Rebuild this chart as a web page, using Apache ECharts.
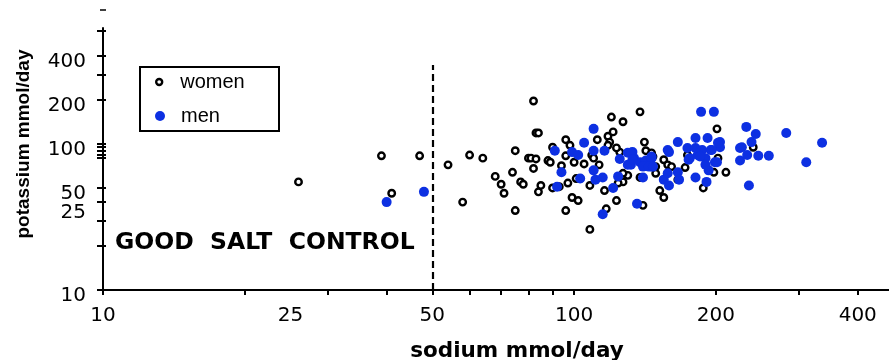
<!DOCTYPE html>
<html>
<head>
<meta charset="utf-8">
<script src="https://cdn.jsdelivr.net/npm/echarts@6/dist/echarts.min.js"></script>
<style>
html,body{margin:0;padding:0;background:#fff;}
#c{width:889px;height:360px;}
</style>
</head>
<body>
<div id="c"></div>
<script>
// ---- data (sodium / potassium, mmol/day) ----
const womenSodium = [26,39,47,41,54,60,58,64,68,70,71,74,75,75,77,78,80,81,83,82,83,84,82,84,85,88,89,94,96,98,96,100,105,101,103,97,93,99,102,96,108,108,112,110,118,121,120,127,109,110,113,116,117,123,138,141,125,142,146,147,155,158,149,149,130,127,138,172,174,166,152,155,140,188,202,210,198,240,161,201,90,119,123,90,124,127,118];
const womenPotassium = [55,83,83,46,72,84,40,80,60,53,46,64,90,35,55,53,80,80,79,197,119,119,68,47,52,77,75,71,107,98,83,75,73,58,58,54,51,43,41,35,26,52,107,127,113,121,153,142,84,80,72,48,36,41,166,103,88,90,87,82,78,72,70,63,61,55,59,69,84,57,48,43,38,50,80,64,64,95,70,127,95,103,94,50,54,63,98];
const menSodium = [40,48,91,94,92,99,102,105,110,110,110,111,115,116,103,121,115,124,125,130,130,133,134,138,142,146,146,140,132,136,140,186,198,232,243,282,336,311,238,166,181,192,204,204,159,132,133,146,144,175,183,187,190,195,202,225,227,225,233,246,259,235,166,181,191,155,159,167,199,193,174,181,176,185,201,190,158,147,158,196];
const menPotassium = [40,47,90,64,51,88,84,102,127,90,66,57,59,90,58,50,33,60,79,87,72,88,80,75,77,82,70,70,72,39,59,166,166,131,117,119,102,75,103,103,110,110,103,95,88,87,78,80,70,78,84,91,80,91,102,94,95,77,84,83,83,52,64,59,55,57,52,57,75,66,94,94,80,82,75,72,91,70,63,91];

// ---- axes ----
const xMin = 10, xMax = 466;
const yMin = 10, yMax = 623;
const xTickValues = [10,20,30,40,50,60,70,80,90,100,200,300,400];
const xLabelValues = [10,25,50,100,200,400];
const yTickValues = [10,20,30,40,50,80,85,90,95,100,200,300,400,600];
const yLabelPositions = [10,37,50,100,200,400];
const yLabelTexts = ['10','25','50','100','200','400'];
const cutoffSodium = 50;
const cutoffLineTop = 348;
const seriesNames = ['women','men'];
const annotationText = 'GOOD  SALT  CONTROL';

const L = Math.log10;
const blue = '#0d30e2';

const chart = echarts.init(document.getElementById('c'), null, {renderer:'canvas'});
const tickFont = {fontFamily:'DejaVu Sans', fontSize:20, color:'#000'};

const option = {
  animation:false,
  backgroundColor:'#fff',
  grid:{left:103,right:0,top:28,bottom:70,containLabel:false,outerBoundsMode:'none'},
  xAxis:[
    {type:'log', min:xMin, max:xMax, show:false},
    {type:'value', min:L(xMin), max:L(xMax), position:'bottom',
      axisLine:{show:true,onZero:false,lineStyle:{color:'#000',width:2}},
      axisTick:{show:true,inside:false,length:5,customValues:xTickValues.map(L),lineStyle:{color:'#000',width:2}},
      axisLabel:Object.assign({customValues:xLabelValues.map(L),margin:16,
        formatter:v=>String(Math.round(Math.pow(10,v)))},tickFont),
      splitLine:{show:false},
      name:'sodium mmol/day', nameLocation:'middle', nameGap:50,
      nameTextStyle:{fontFamily:'DejaVu Sans',fontWeight:'bold',fontSize:21.5,color:'#000',padding:[0,0,0,42]}
    }
  ],
  yAxis:[
    {type:'log', min:yMin, max:yMax, show:false},
    {type:'value', min:L(yMin), max:L(yMax), position:'left',
      axisLine:{show:true,onZero:false,lineStyle:{color:'#000',width:2}},
      axisTick:{show:true,inside:false,length:6,customValues:yTickValues.map(L),lineStyle:{color:'#000',width:2}},
      axisLabel:Object.assign({customValues:yLabelPositions.map(L),margin:17,verticalAlign:'top',lineHeight:12,
        formatter:v=>{
          for(let i=0;i<yLabelPositions.length;i++){ if(Math.abs(L(yLabelPositions[i])-v)<1e-6) return yLabelTexts[i]; }
          return '';
        }},tickFont),
      splitLine:{show:false},
      name:'potassium mmol/day', nameLocation:'middle', nameGap:70,
      nameTextStyle:{fontFamily:'Liberation Sans',fontWeight:'bold',fontSize:19,color:'#000',padding:[0,0,0,30]}
    },
    {type:'value', min:L(yMin), max:L(yMax), position:'left',
      axisLine:{show:false},
      axisTick:{show:true,inside:true,length:3,customValues:yTickValues.map(L),lineStyle:{color:'#000',width:2}},
      axisLabel:{show:false},
      splitLine:{show:false}
    }
  ],
  legend:[
    {data:[{name:seriesNames[0],itemStyle:{color:'#fff',borderColor:'#000',borderWidth:2.4}}],
      left:155, top:72, padding:0, itemWidth:32, itemHeight:6, icon:'circle', selectedMode:false,
      textStyle:{fontFamily:'Liberation Sans',fontSize:20,color:'#000',lineHeight:20}},
    {data:[{name:seriesNames[1]}],
      left:155, top:106, padding:0, itemWidth:32, itemHeight:10, icon:'circle', selectedMode:false,
      textStyle:{fontFamily:'Liberation Sans',fontSize:20,color:'#000',lineHeight:20}}
  ],
  graphic:[
    {type:'rect', silent:true, shape:{x:140,y:67,width:139,height:64}, style:{fill:'none',stroke:'#000',lineWidth:2}},
    {type:'text', silent:true, x:115, y:243, style:{text:annotationText, fontFamily:'DejaVu Sans', fontWeight:'bold', fontSize:23.5, fill:'#000', verticalAlign:'middle', align:'left'}},
    {type:'line', silent:true, shape:{x1:100,y1:10,x2:106,y2:10}, style:{stroke:'#000',lineWidth:1.5}}
  ],
  series:[
    {name:seriesNames[0], type:'scatter', xAxisIndex:0, yAxisIndex:0,
      symbol:'circle', symbolSize:6.5,
      itemStyle:{color:'#fff',borderColor:'#000',borderWidth:2.4,opacity:1},
      data:womenSodium.map((s,i)=>[s,womenPotassium[i]]),
      markLine:{silent:true, symbol:['none','none'], label:{show:false},
        lineStyle:{color:'#000',width:2.2,type:[7,4],opacity:1},
        emphasis:{disabled:true},
        data:[[{coord:[cutoffSodium,yMin]},{coord:[cutoffSodium,cutoffLineTop]}]]}
    },
    {name:seriesNames[1], type:'scatter', xAxisIndex:0, yAxisIndex:0,
      symbol:'circle', symbolSize:10,
      itemStyle:{color:blue,opacity:1},
      data:menSodium.map((s,i)=>[s,menPotassium[i]])
    }
  ]
};
chart.setOption(option);
</script>
</body>
</html>
